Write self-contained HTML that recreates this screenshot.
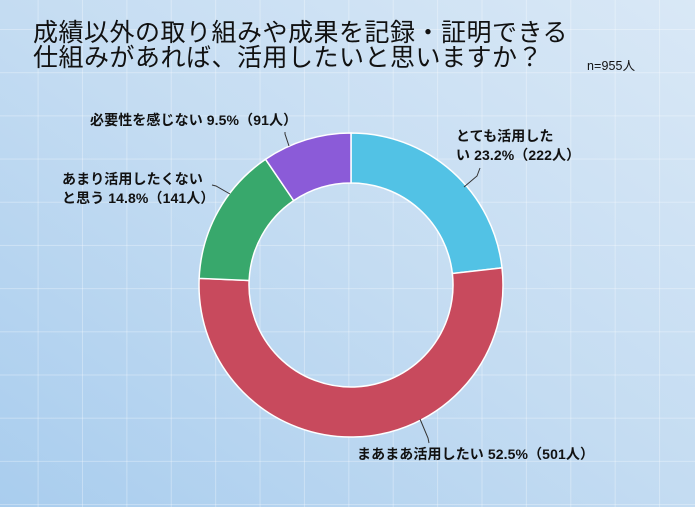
<!DOCTYPE html>
<html><head><meta charset="utf-8"><style>
body{margin:0}
#c{position:relative;width:695px;height:507px;overflow:hidden;background:linear-gradient(215deg,#d9e8f6 0%,#c4dcf2 50%,#a9cdee 100%);font-family:"Liberation Sans","Noto Sans CJK JP",sans-serif}
.g{position:absolute;inset:0;background-image:linear-gradient(to right,rgba(255,255,255,.3) 1px,transparent 1px),linear-gradient(to bottom,rgba(255,255,255,.3) 1px,transparent 1px);background-size:44.4px 43.2px;background-position:37.6px 29px}
.t{position:absolute;left:33px;top:21px;font-size:25px;line-height:25px;color:#111;letter-spacing:0.5px}
.l{position:absolute;font-size:14px;font-weight:bold;color:#111;line-height:19px;white-space:nowrap;letter-spacing:0.1px}
</style></head><body><div id="c"><div class="g"></div>
<div class="t">成績以外の取り組みや成果を記録・証明できる<br>仕組みがあれば、活用したいと思いますか？</div>
<div class="l" style="left:587px;top:57px;font-weight:normal;font-size:12.5px">n=955人</div>
<svg width="695" height="507" style="position:absolute;left:0;top:0">
<g stroke="#fff" stroke-width="1.5">
<path d="M351,133 A152,152 0 0 1 502.03,267.85 L452.35,273.49 A102,102 0 0 0 351,183 Z" fill="#52c2e5"/>
<path d="M502.03,267.85 A152,152 0 1 1 199.15,278.32 L249.10,280.52 A102,102 0 1 0 452.35,273.49 Z" fill="#c84a5d"/>
<path d="M199.15,278.32 A152,152 0 0 1 265.56,159.28 L293.67,200.64 A102,102 0 0 0 249.10,280.52 Z" fill="#38a86c"/>
<path d="M265.56,159.28 A152,152 0 0 1 351,133 L351,183 A102,102 0 0 0 293.67,200.64 Z" fill="#8b5bd8"/>
</g>
<g stroke="#333" fill="none" stroke-width="1">
<path d="M464,187 L477,176 L480,168"/>
<path d="M420,419 L428,438 L429,443"/>
<path d="M230,194 L216,186 L212,185"/>
<path d="M289,146 L285,134 L285,132"/>
</g>
</svg>
<div class="l" style="left:456px;top:127px">とても活用した<br>い 23.2%（222人）</div>
<div class="l" style="left:357px;top:445px">まあまあ活用したい 52.5%（501人）</div>
<div class="l" style="left:62px;top:170px">あまり活用したくない<br>と思う 14.8%（141人）</div>
<div class="l" style="left:90px;top:111px">必要性を感じない 9.5%（91人）</div>
</div></body></html>
